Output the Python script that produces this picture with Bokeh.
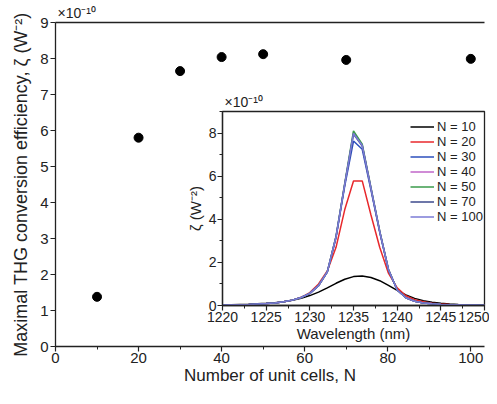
from bokeh.plotting import figure
from bokeh.models import Range1d, SingleIntervalTicker, LinearAxis, FixedTicker, Title, Legend, LegendItem
from bokeh.layouts import column
from bokeh.embed import file_html
from bokeh.resources import INLINE

FONT = "Liberation Sans"
AX = "#222222"

# ---- main data: maximal THG conversion efficiency (x1e-10 W^-2) ----
N_cells = [10, 20, 30, 40, 50, 70, 100]
max_eff = [1.38, 5.80, 7.65, 8.04, 8.12, 7.96, 7.99]

# ---- inset data: zeta spectra (x1e-10 W^-2) ----
wavelength = list(range(1220, 1251))
zeta_N10 = [0.03, 0.04, 0.05, 0.06, 0.08, 0.10, 0.13, 0.17, 0.24, 0.33, 0.46, 0.62, 0.82, 1.03, 1.22,
            1.34, 1.37, 1.30, 1.15, 0.93, 0.70, 0.49, 0.33, 0.22, 0.15, 0.10, 0.07, 0.05, 0.04, 0.03, 0.03]
zeta_N20 = [0.02, 0.03, 0.04, 0.05, 0.07, 0.09, 0.12, 0.17, 0.25, 0.38, 0.60, 1.00, 1.60, 2.70, 4.45,
            5.78, 5.78, 4.20, 2.70, 1.50, 0.82, 0.45, 0.27, 0.17, 0.11, 0.07, 0.05, 0.04, 0.03, 0.02, 0.02]
zeta_N30 = [0.02, 0.03, 0.04, 0.05, 0.07, 0.09, 0.12, 0.17, 0.25, 0.37, 0.56, 0.92, 1.55, 3.15, 5.55,
            7.63, 7.25, 5.35, 3.40, 1.65, 0.72, 0.36, 0.20, 0.12, 0.08, 0.05, 0.04, 0.03, 0.02, 0.02, 0.01]
zeta_N40 = [0.02, 0.03, 0.04, 0.05, 0.07, 0.09, 0.12, 0.17, 0.25, 0.37, 0.56, 0.92, 1.56, 3.20, 5.65,
            8.03, 7.45, 5.45, 3.45, 1.68, 0.72, 0.36, 0.20, 0.12, 0.08, 0.05, 0.04, 0.03, 0.02, 0.02, 0.01]
zeta_N50 = [0.02, 0.03, 0.04, 0.05, 0.07, 0.09, 0.12, 0.17, 0.25, 0.37, 0.56, 0.92, 1.56, 3.22, 5.68,
            8.10, 7.48, 5.47, 3.46, 1.68, 0.72, 0.36, 0.20, 0.12, 0.08, 0.05, 0.04, 0.03, 0.02, 0.02, 0.01]
zeta_N70 = [0.02, 0.03, 0.04, 0.05, 0.07, 0.09, 0.12, 0.17, 0.25, 0.37, 0.56, 0.92, 1.56, 3.18, 5.62,
            7.95, 7.40, 5.42, 3.43, 1.67, 0.72, 0.36, 0.20, 0.12, 0.08, 0.05, 0.04, 0.03, 0.02, 0.02, 0.01]
zeta_N100 = [0.02, 0.03, 0.04, 0.05, 0.07, 0.09, 0.12, 0.17, 0.25, 0.37, 0.56, 0.92, 1.56, 3.19, 5.63,
             7.98, 7.42, 5.43, 3.44, 1.67, 0.72, 0.36, 0.20, 0.12, 0.08, 0.05, 0.04, 0.03, 0.02, 0.02, 0.01]

series_labels = ["N = 10", "N = 20", "N = 30", "N = 40", "N = 50", "N = 70", "N = 100"]
series_values = [zeta_N10, zeta_N20, zeta_N30, zeta_N40, zeta_N50, zeta_N70, zeta_N100]
series_colors = ["#000000", "#e8282c", "#2c4fbd", "#c066c8", "#3b9b4b", "#3d4a8c", "#7b7bd6"]
scale_note = "×10⁻¹⁰"


def style_axis(ax, tick_size, label_size):
    ax.axis_line_color = AX
    ax.axis_line_width = 1.3
    ax.major_tick_line_color = AX
    ax.minor_tick_line_color = AX
    ax.major_tick_line_width = 1.2
    ax.minor_tick_line_width = 1.0
    ax.major_tick_in = 0
    ax.minor_tick_in = 0
    ax.major_tick_out = 5
    ax.minor_tick_out = 3
    ax.major_label_text_font = FONT
    ax.major_label_text_font_size = tick_size
    ax.major_label_text_color = AX
    ax.major_label_standoff = 1
    ax.axis_label_text_font = FONT
    ax.axis_label_text_font_size = label_size
    ax.axis_label_text_font_style = "normal"
    ax.axis_label_text_color = AX
    ax.axis_label_standoff = 0


def note_title():
    return Title(text=scale_note, align="left", offset=2, standoff=4,
                 text_font=FONT, text_font_size="14px", text_font_style="normal",
                 text_color=AX)


# ================= main figure =================
MAIN_W, MAIN_H = 489, 388
p = figure(width=MAIN_W, height=MAIN_H, x_range=Range1d(0, 103.3), y_range=Range1d(0, 9),
           title=None, output_backend="svg", toolbar_location=None,
           min_border_left=55, min_border_right=0, min_border_top=20, min_border_bottom=42)
p.outline_line_color = None
p.grid.visible = False
p.background_fill_color = "white"

xb = p.below[0]
yl = p.left[0]
xb.ticker = SingleIntervalTicker(interval=20, num_minor_ticks=2)
yl.ticker = SingleIntervalTicker(interval=1, num_minor_ticks=0)
style_axis(xb, "15px", "17px")
style_axis(yl, "15px", "18px")
xb.axis_label = "Number of unit cells, N"
yl.axis_label = "Maximal THG conversion efficiency, ζ (W⁻²)"
yl.major_label_standoff = 2
yl.axis_label_standoff = 6

top = LinearAxis(ticker=FixedTicker(ticks=[]), major_label_text_font_size="0px",
                 major_tick_out=0, minor_tick_out=0, major_label_standoff=0,
                 axis_line_color=AX, axis_line_width=1.3)
p.add_layout(top, "above")
p.add_layout(note_title(), "above")

p.scatter(N_cells, max_eff, size=9, color="black")

# ================= inset figure =================
IN_LEFT, IN_TOP = 167, 89          # inset canvas top-left in the picture
q = figure(width=322, height=258, x_range=Range1d(1220, 1250), y_range=Range1d(0, 9),
           title=None, output_backend="svg", toolbar_location=None,
           min_border_left=48, min_border_right=5, min_border_top=20, min_border_bottom=42)
q.grid.visible = False
q.outline_line_color = AX
q.outline_line_width = 1.3
q.background_fill_color = "white"
q.border_fill_color = None

qx = q.below[0]
qy = q.left[0]
qx.ticker = SingleIntervalTicker(interval=5, num_minor_ticks=2)
qy.ticker = SingleIntervalTicker(interval=2, num_minor_ticks=2)
style_axis(qx, "14px", "15px")
style_axis(qy, "14px", "15px")
qx.axis_label = "Wavelength (nm)"
qy.axis_label = "ζ (W⁻²)"
qy.axis_label_standoff = 2
q.add_layout(note_title(), "above")

items = []
for lab, vals, col in zip(series_labels, series_values, series_colors):
    r = q.line(wavelength, vals, line_color=col, line_width=1.5)
    items.append(LegendItem(label=lab, renderers=[r]))

leg = Legend(items=items, location=(188, 81), padding=0, margin=0, spacing=0,
             label_height=15, glyph_height=15, glyph_width=24, label_standoff=3,
             label_text_font=FONT, label_text_font_size="13px", label_text_color=AX,
             background_fill_alpha=0, border_line_color=None)
q.add_layout(leg)

q.margin = (IN_TOP - MAIN_H, 0, 0, IN_LEFT)

layout = column(p, q)
open("out.html", "w").write(file_html(layout, INLINE))
